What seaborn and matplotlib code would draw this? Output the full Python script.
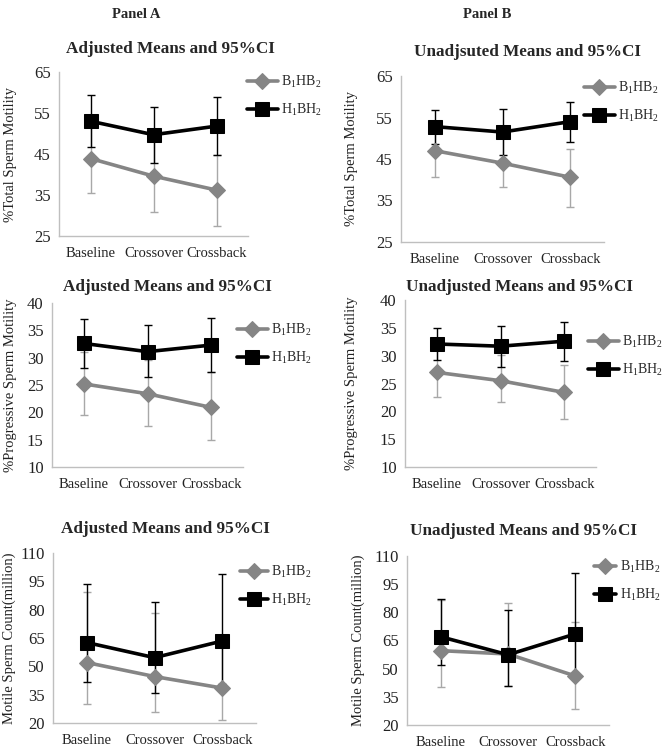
import numpy as np
import matplotlib
matplotlib.use('Agg')
import matplotlib.pyplot as plt
import seaborn as sns

sns.set_theme(style="white")
plt.rcParams['font.family'] = ['Liberation Serif', 'DejaVu Serif']
plt.rcParams['mathtext.fontset'] = 'custom'
plt.rcParams['mathtext.rm'] = 'Liberation Serif'

categories = ['Baseline', 'Crossover', 'Crossback']
series_labels = [r'B$_\mathregular{1}$HB$_\mathregular{2}$', r'H$_\mathregular{1}$BH$_\mathregular{2}$']

# total motility, adjusted (panel A) / unadjusted (panel B)
tot_adj_b = [43.9, 39.6, 36.2]
tot_adj_b_lo = [35.6, 30.9, 27.5]
tot_adj_b_hi = [52.2, 48.3, 44.8]
tot_adj_h = [53.0, 49.7, 51.8]
tot_adj_h_lo = [46.8, 42.9, 44.7]
tot_adj_h_hi = [59.3, 56.4, 58.8]

tot_unadj_b = [47.0, 44.0, 40.6]
tot_unadj_b_lo = [40.6, 38.2, 33.5]
tot_unadj_b_hi = [53.4, 50.0, 47.5]
tot_unadj_h = [52.8, 51.5, 54.0]
tot_unadj_h_lo = [48.6, 45.9, 49.2]
tot_unadj_h_hi = [56.8, 57.0, 58.8]

# progressive motility
prog_adj_b = [25.2, 23.4, 20.9]
prog_adj_b_lo = [19.5, 17.5, 14.9]
prog_adj_b_hi = [31.1, 29.5, 27.3]
prog_adj_h = [32.6, 31.1, 32.3]
prog_adj_h_lo = [28.2, 26.4, 27.4]
prog_adj_h_hi = [37.0, 35.9, 37.3]

prog_unadj_b = [27.0, 25.5, 23.4]
prog_unadj_b_lo = [22.6, 21.6, 18.6]
prog_unadj_b_hi = [31.2, 30.2, 28.3]
prog_unadj_h = [32.1, 31.7, 32.6]
prog_unadj_h_lo = [29.2, 28.0, 29.1]
prog_unadj_h_hi = [34.9, 35.4, 36.0]

# motile sperm count
cnt_adj_b = [52.0, 44.6, 38.5]
cnt_adj_b_lo = [30.2, 25.8, 21.6]
cnt_adj_b_hi = [89.3, 78.1, 66.6]
cnt_adj_h = [62.6, 54.6, 63.4]
cnt_adj_h_lo = [41.8, 35.9, 40.6]
cnt_adj_h_hi = [93.6, 83.9, 98.9]

cnt_unadj_b = [59.6, 57.8, 46.1]
cnt_unadj_b_lo = [40.4, 40.8, 28.4]
cnt_unadj_b_hi = [86.8, 84.8, 74.7]
cnt_unadj_h = [67.0, 57.4, 68.5]
cnt_unadj_h_lo = [51.9, 40.6, 46.5]
cnt_unadj_h_hi = [87.2, 81.4, 101.1]

W, H = 662, 750
fig = plt.figure(figsize=(W / 100, H / 100), dpi=100)

GRAY = '#858585'
GRAY_ERR = '#a8a8a8'

def fx(px):
    return px / W

def fy(py):
    return 1 - py / H

# (b data, h data, title, ylabel, yticks, axes box l,r,t,b, title xy, ylabel x, legend xy, handle length)
panels = [
    ((tot_adj_b, tot_adj_b_lo, tot_adj_b_hi), (tot_adj_h, tot_adj_h_lo, tot_adj_h_hi),
     'Adjusted Means and 95%CI', '%Total Sperm Motility', [25, 35, 45, 55, 65],
     (59, 248, 72, 236), (170, 49), 11, (247, 96), 2.2),
    ((tot_unadj_b, tot_unadj_b_lo, tot_unadj_b_hi), (tot_unadj_h, tot_unadj_h_lo, tot_unadj_h_hi),
     'Unadjsuted Means and 95%CI', '%Total Sperm Motility', [25, 35, 45, 55, 65],
     (401, 604, 76, 242), (527, 52), 352, (584, 102), 2.2),
    ((prog_adj_b, prog_adj_b_lo, prog_adj_b_hi), (prog_adj_h, prog_adj_h_lo, prog_adj_h_hi),
     'Adjusted Means and 95%CI', '%Progressive Sperm Motility', [10, 15, 20, 25, 30, 35, 40],
     (52, 243, 303, 467), (167, 287), 11, (237, 344), 2.2),
    ((prog_unadj_b, prog_unadj_b_lo, prog_unadj_b_hi), (prog_unadj_h, prog_unadj_h_lo, prog_unadj_h_hi),
     'Unadjusted Means and 95%CI', '%Progressive Sperm Motility', [10, 15, 20, 25, 30, 35, 40],
     (405, 596, 300, 467), (519, 287), 351, (588, 356), 2.2),
    ((cnt_adj_b, cnt_adj_b_lo, cnt_adj_b_hi), (cnt_adj_h, cnt_adj_h_lo, cnt_adj_h_hi),
     'Adjusted Means and 95%CI', 'Motile Sperm Count(million)', [20, 35, 50, 65, 80, 95, 110],
     (53, 256, 553, 723), (165, 529), 9, (240, 586), 2.0),
    ((cnt_unadj_b, cnt_unadj_b_lo, cnt_unadj_b_hi), (cnt_unadj_h, cnt_unadj_h_lo, cnt_unadj_h_hi),
     'Unadjusted Means and 95%CI', 'Motile Sperm Count(million)', [20, 35, 50, 65, 80, 95, 110],
     (407, 609, 556, 725), (523, 531), 358, (594, 581), 1.6),
]

x = np.arange(len(categories))

for bdat, hdat, title, ylabel, yticks, box, txy, ylx, lxy, hlen in panels:
    l, r, t, b = box
    ax = fig.add_axes([fx(l), fy(b), fx(r - l), (b - t) / H])

    # error bars first, then the lines on top
    for (m, lo, hi), ec in [(bdat, GRAY_ERR), (hdat, 'black')]:
        m, lo, hi = np.array(m), np.array(lo), np.array(hi)
        ax.errorbar(x, m, yerr=[m - lo, hi - m], fmt='none', ecolor=ec,
                    elinewidth=1.0, capsize=3, capthick=1.0, zorder=2)

    sns.lineplot(x=x, y=bdat[0], color=GRAY, marker='D', markersize=8,
                 markeredgecolor=GRAY, linewidth=2.6, ax=ax, zorder=3)
    sns.lineplot(x=x, y=hdat[0], color='black', marker='s', markersize=10.5,
                 markeredgecolor='black', linewidth=2.6, ax=ax, zorder=4)
    handles = [ax.lines[-2], ax.lines[-1]]

    ax.set_xlim(-0.5, 2.5)
    ax.set_ylim(yticks[0], yticks[-1])
    ax.set_yticks(yticks)
    ax.set_yticklabels([str(v) for v in yticks])
    ax.set_xticks(x)
    ax.set_xticklabels(categories)
    ax.tick_params(axis='both', length=0, colors='#222222')
    ax.tick_params(axis='y', pad=6, labelsize=12)
    ax.tick_params(axis='x', pad=8, labelsize=10.5)
    for s in ['top', 'right']:
        ax.spines[s].set_visible(False)
    for s in ['left', 'bottom']:
        ax.spines[s].set_color('#bfbfbf')
        ax.spines[s].set_linewidth(1.0)
    ax.set_xlabel('')
    ax.set_ylabel(ylabel, fontsize=10.5, color='#222222', va='center')
    ax.yaxis.set_label_coords((ylx - l) / (r - l), 0.5)

    fig.text(fx(txy[0]), fy(txy[1]), title, ha='center', va='center',
             fontsize=12.3, fontweight='bold')

    ax.legend(handles, series_labels, loc='center left', frameon=False,
              bbox_to_anchor=(fx(lxy[0]), fy(lxy[1])), bbox_transform=fig.transFigure,
              borderpad=0, borderaxespad=0, handlelength=hlen, handletextpad=0.25,
              labelspacing=0.8, fontsize=10)

fig.text(fx(136), fy(14), 'Panel A', ha='center', va='center', fontsize=10.5, fontweight='bold')
fig.text(fx(487), fy(14), 'Panel B', ha='center', va='center', fontsize=10.5, fontweight='bold')

fig.savefig('out.png', dpi=100)
